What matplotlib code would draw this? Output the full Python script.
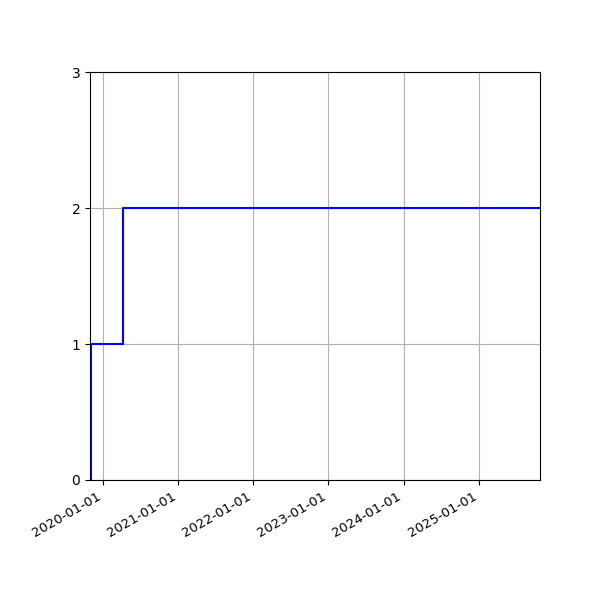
import matplotlib
matplotlib.use("Agg")
import matplotlib.pyplot as plt
import matplotlib.dates as mdates
import numpy as np

# fechas de cada cambio y el valor acumulado
dates = np.array(["2019-10-30", "2019-11-03", "2020-04-07", "2025-10-25"], dtype="datetime64[D]")
counts = [0, 1, 2, 2]

fig, ax = plt.subplots(figsize=(6, 6), dpi=100)
fig.subplots_adjust(left=0.15, right=0.9, top=0.88, bottom=0.2)

ax.step(dates, counts, where="post", color="blue")
ax.set_xlim(dates[0], dates[-1])
ax.set_ylim(0, 3)
ax.set_yticks([0, 1, 2, 3])
ax.xaxis.set_major_locator(mdates.YearLocator())
ax.xaxis.set_major_formatter(mdates.DateFormatter("%Y-%m-%d"))
ax.grid(True)
fig.autofmt_xdate()
for lbl in ax.get_xticklabels():
    lbl.set_fontsize(9.5)

plt.savefig("out.png")
